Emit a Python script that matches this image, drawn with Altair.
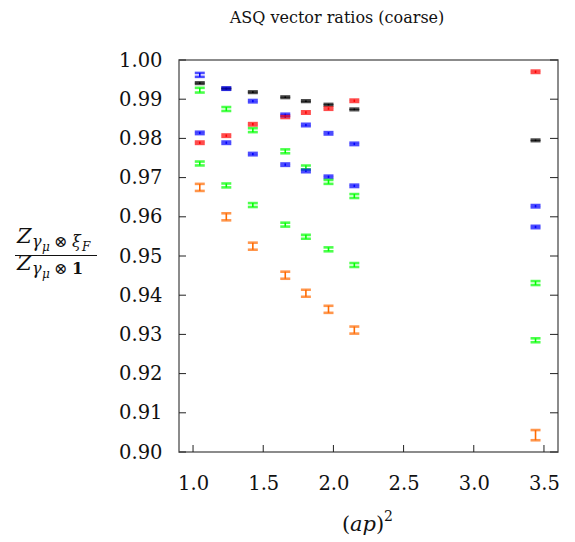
import altair as alt
import pandas as pd

# ---------------- data ----------------
x_vals = [1.048, 1.237, 1.426, 1.657, 1.804, 1.965, 2.149, 3.44]

black_y = [0.9941, 0.9927, 0.9918, 0.9905, 0.9895, 0.9886, 0.9874, 0.9795]
black_e = [0.0002, 0.0002, 0.0002, 0.0002, 0.0002, 0.0002, 0.0002, 0.0002]

red_y = [0.9789, 0.9807, 0.9836, 0.9855, 0.9866, 0.9876, 0.9896, 0.9970]
red_e = [0.0003, 0.0003, 0.0003, 0.0003, 0.0003, 0.0003, 0.0003, 0.0003]

blue1_y = [0.9962, 0.9927, 0.9895, 0.9860, 0.9834, 0.9813, 0.9786, 0.9627]
blue1_e = [0.0005, 0.0003, 0.0003, 0.0003, 0.0003, 0.0003, 0.0003, 0.0003]

blue2_y = [0.9814, 0.9789, 0.9760, 0.9733, 0.9717, 0.9702, 0.9679, 0.9574]
blue2_e = [0.0003, 0.0003, 0.0003, 0.0003, 0.0003, 0.0003, 0.0003, 0.0003]

green1_y = [0.9923, 0.9875, 0.9821, 0.9767, 0.9726, 0.9689, 0.9653, 0.9431]
green1_e = [0.0006, 0.0005, 0.0005, 0.0005, 0.0005, 0.0005, 0.0005, 0.0005]

green2_y = [0.9736, 0.9680, 0.9630, 0.9580, 0.9549, 0.9517, 0.9477, 0.9285]
green2_e = [0.0005, 0.0005, 0.0005, 0.0005, 0.0005, 0.0005, 0.0005, 0.0005]

orange_y = [0.9675, 0.9600, 0.9525, 0.9451, 0.9405, 0.9364, 0.9311, 0.9043]
orange_e = [0.0009, 0.0009, 0.0009, 0.0009, 0.0009, 0.0009, 0.0009, 0.0013]

series_names = ["black", "red", "blue1", "blue2", "green1", "green2", "orange"]
series_colors = ["#000000", "#ff0000", "#0000ff", "#0000ff", "#00ff00", "#00ff00", "#ff6a00"]
series_data = [
    (black_y, black_e), (red_y, red_e), (blue1_y, blue1_e), (blue2_y, blue2_e),
    (green1_y, green1_e), (green2_y, green2_e), (orange_y, orange_e),
]

x_ticks = [1.0, 1.5, 2.0, 2.5, 3.0, 3.5]
y_ticks = [0.90, 0.91, 0.92, 0.93, 0.94, 0.95, 0.96, 0.97, 0.98, 0.99, 1.00]

title_text = "ASQ vector ratios (coarse)"

rows = []
for name, (ys, es) in zip(series_names, series_data):
    for xv, yv, ev in zip(x_vals, ys, es):
        rows.append({"series": name, "x": xv, "y": yv, "lo": yv - ev, "hi": yv + ev})
df = pd.DataFrame(rows)

# ---------------- layout ----------------
W, H = 379, 392
FONT = "DejaVu Serif"

xscale = alt.Scale(domain=[0.9, 3.6], nice=False, zero=False)
yscale = alt.Scale(domain=[0.90, 1.00], nice=False, zero=False)
color = alt.Color("series:N", scale=alt.Scale(domain=series_names, range=series_colors), legend=None)

xaxis = alt.Axis(values=x_ticks, format=".1f", ticks=False, tickSize=0, domain=False, grid=False,
                 labelFont=FONT, labelFontSize=19.5, labelColor="#111", labelPadding=37,
                 labelBaseline="alphabetic", labelFlush=False, labelOverlap=False, title=None)
yaxis = alt.Axis(values=y_ticks, format=".2f", ticks=False, tickSize=0, domain=False, grid=False,
                 labelFont=FONT, labelFontSize=19.5, labelColor="#111", labelPadding=17,
                 labelFlush=False, labelOverlap=False, title=None)


def X(f):
    return alt.X(f, scale=xscale, axis=xaxis)


def Y(f):
    return alt.Y(f, scale=yscale, axis=yaxis)


base = alt.Chart(df)
bars = base.mark_rule(strokeWidth=1.6).encode(x=X("x:Q"), y=Y("lo:Q"), y2="hi:Q", color=color)
cap_lo = base.mark_tick(orient="horizontal", size=10, thickness=2.6).encode(
    x=X("x:Q"), y=Y("lo:Q"), color=color)
cap_hi = base.mark_tick(orient="horizontal", size=10, thickness=2.6).encode(
    x=X("x:Q"), y=Y("hi:Q"), color=color)

# inward tick marks
xt = alt.Chart(pd.DataFrame({"t": x_ticks})).mark_rule(color="#222", strokeWidth=1).encode(
    x=X("t:Q"), y=alt.value(H - 7), y2=alt.value(H))
ytl = alt.Chart(pd.DataFrame({"t": y_ticks})).mark_rule(color="#222", strokeWidth=1).encode(
    y=Y("t:Q"), x=alt.value(0), x2=alt.value(7))
ytr = alt.Chart(pd.DataFrame({"t": y_ticks})).mark_rule(color="#222", strokeWidth=1).encode(
    y=Y("t:Q"), x=alt.value(W - 8), x2=alt.value(W))

one = pd.DataFrame({"a": [0]})


def txt(s, x, y, size, style="normal", weight="normal", align="left"):
    return alt.Chart(one).mark_text(
        text=s, font=FONT, fontSize=size, fontStyle=style, fontWeight=weight,
        align=align, baseline="alphabetic", color="#111"
    ).encode(x=alt.value(x), y=alt.value(y))


labels = [
    txt(title_text, 158, -37, 16, align="center"),
    # x-axis title (ap)^2
    txt("(", 163, 471, 21),
    txt("ap", 171, 471, 21, style="italic"),
    txt(")", 197, 471, 21),
    txt("2", 205, 461, 14),
    # y-axis title fraction: numerator
    txt("Z", -162, 183, 21, style="italic"),
    txt("γ", -147, 187, 16, style="italic"),
    txt("μ", -137, 191, 12, style="italic"),
    txt("⊗", -125, 187, 16),
    txt("ξ", -107, 187, 16, style="italic"),
    txt("F", -97, 191, 12, style="italic"),
    # denominator
    txt("Z", -162, 210, 21, style="italic"),
    txt("γ", -147, 214, 16, style="italic"),
    txt("μ", -137, 218, 12, style="italic"),
    txt("⊗", -125, 214, 16),
    txt("1", -107, 214, 16, weight="bold"),
]
frac_bar = alt.Chart(one).mark_rule(color="#111", strokeWidth=1).encode(
    x=alt.value(-164), x2=alt.value(-82), y=alt.value(195.5))

chart = alt.layer(
    bars, cap_lo, cap_hi, xt, ytl, ytr, frac_bar, *labels
).properties(
    width=W, height=H,
    autosize=alt.AutoSizeParams(type="none"),
    padding={"left": 171, "top": 52, "right": 8, "bottom": 84},
).configure_view(stroke="#666", strokeWidth=1.5).configure_axis(labelOverlap=False)

chart.save("out.html", embed_options={"renderer": "svg", "actions": False})
